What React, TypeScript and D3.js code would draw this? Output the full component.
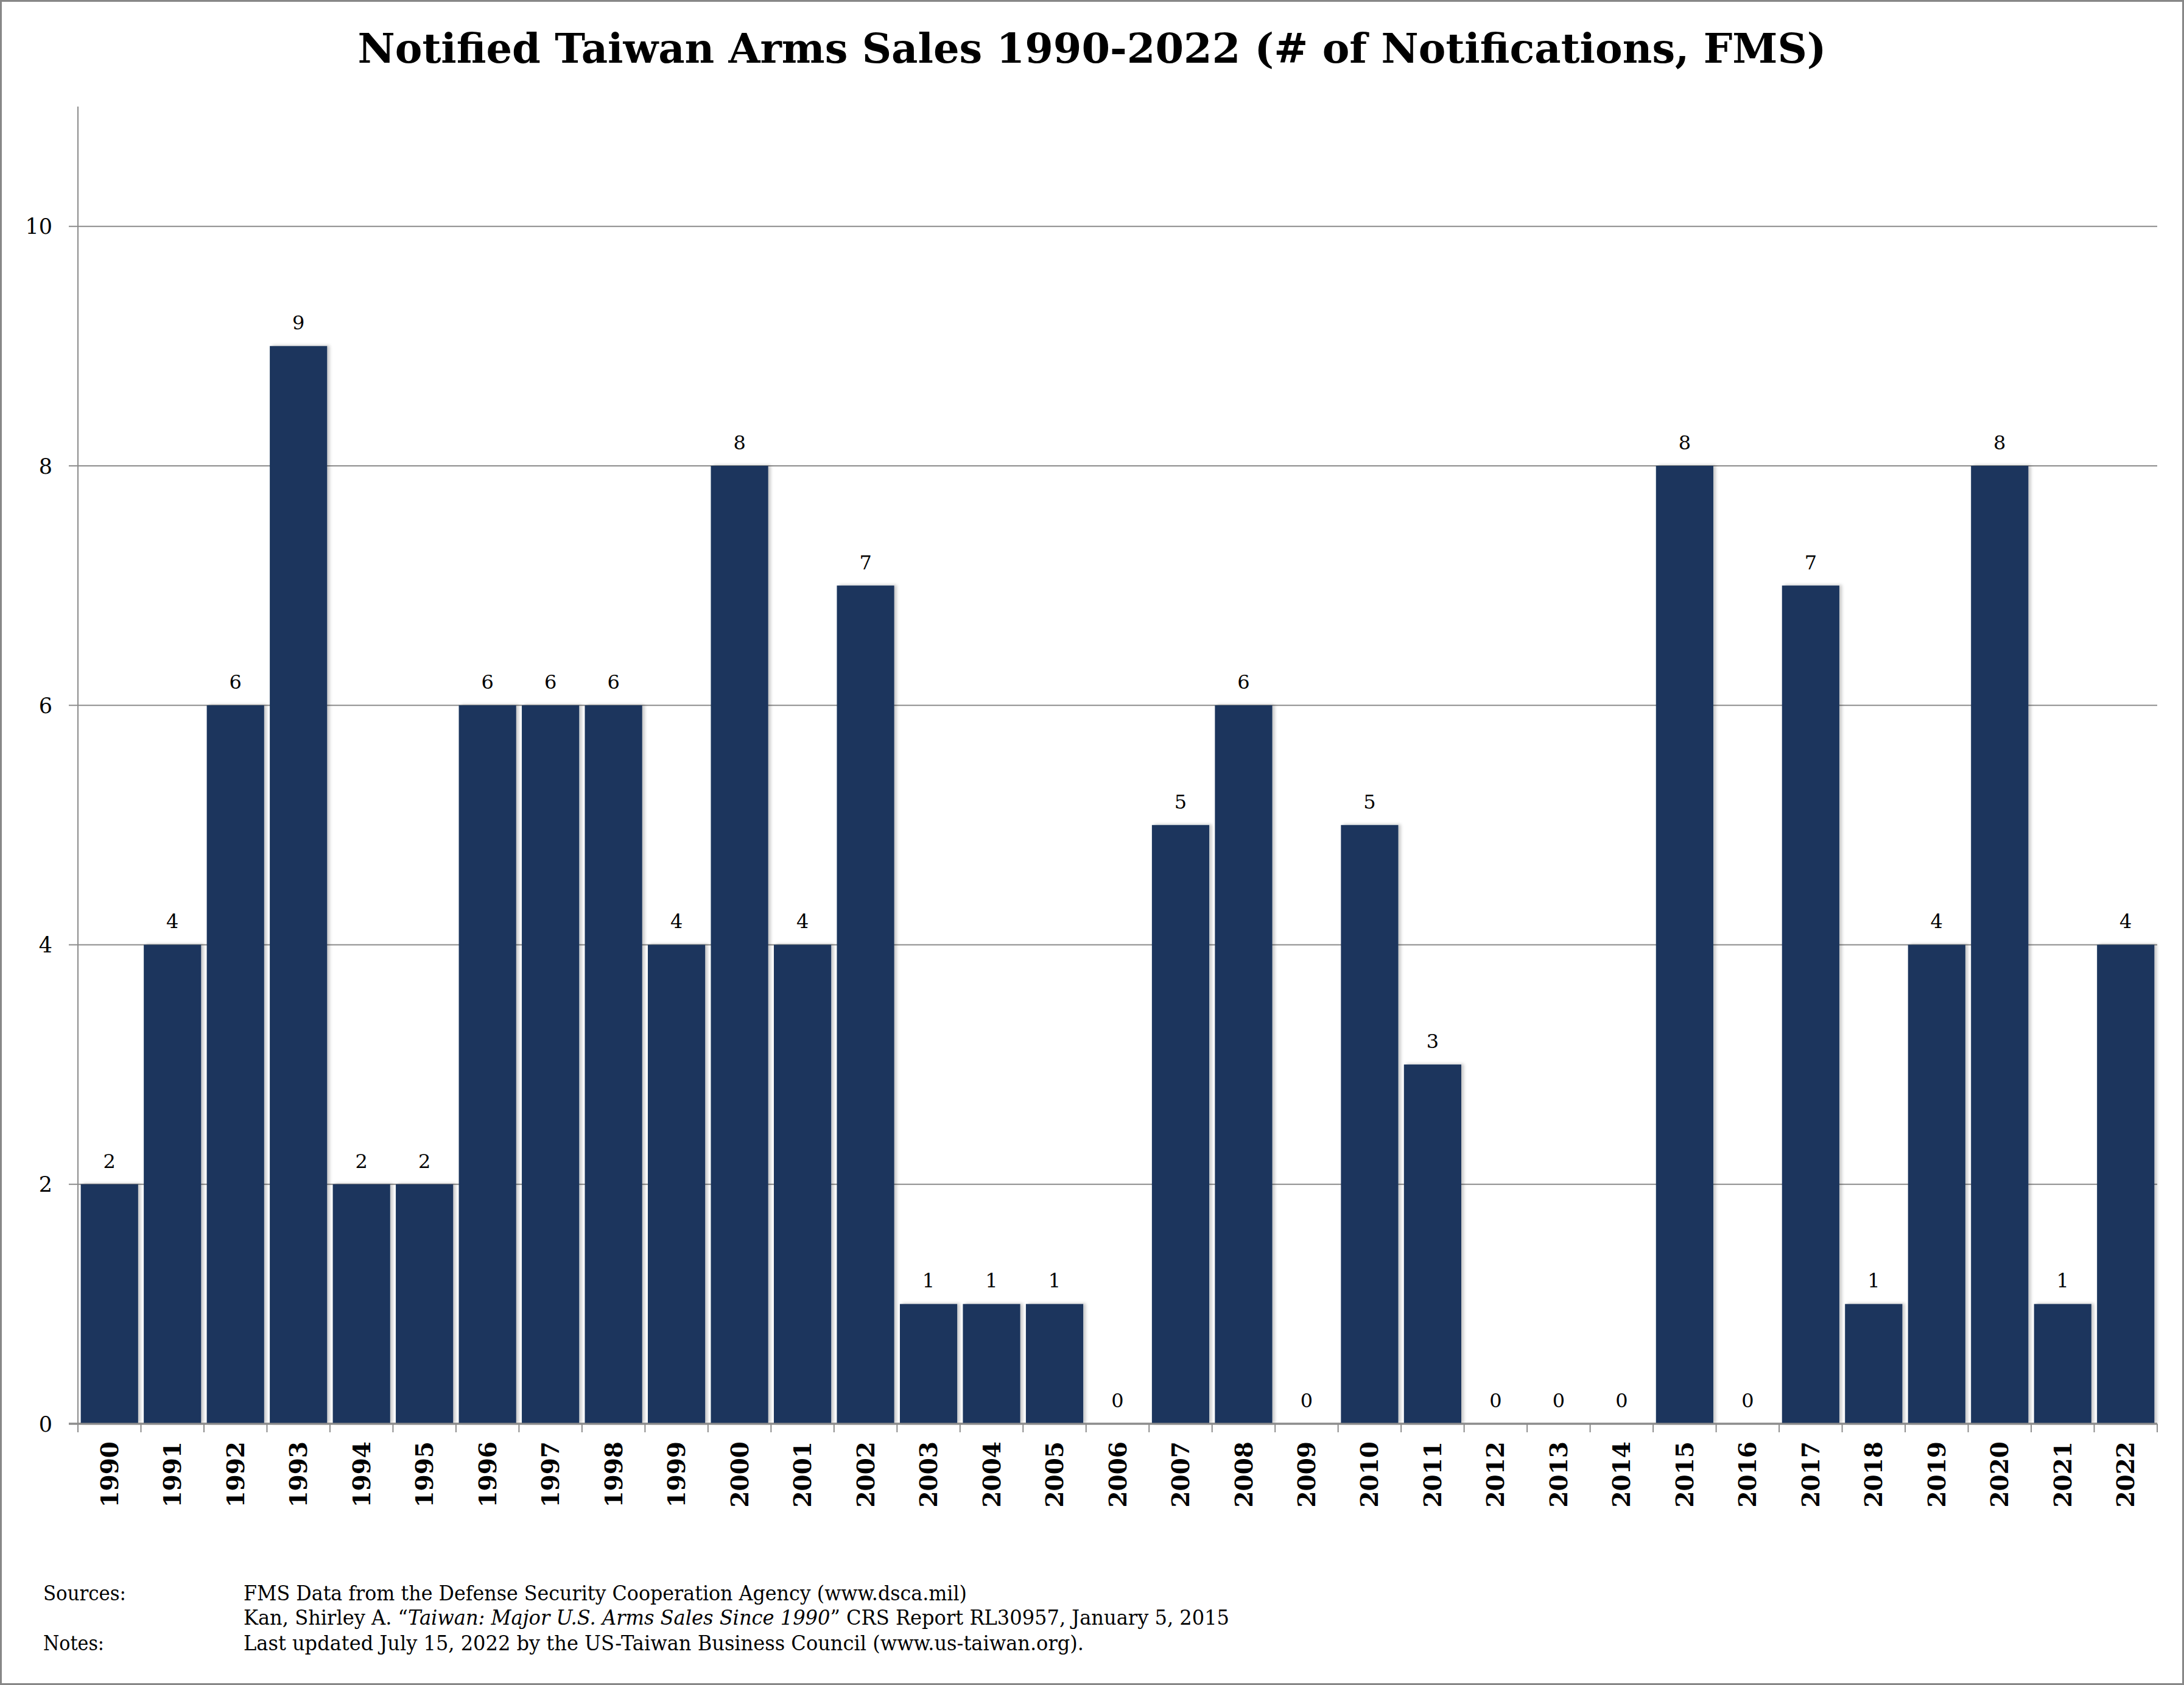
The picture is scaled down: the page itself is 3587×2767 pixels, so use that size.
import React, { useEffect } from "react";
import * as d3 from "d3";

const years: string[] = [
  "1990","1991","1992","1993","1994","1995","1996","1997","1998","1999",
  "2000","2001","2002","2003","2004","2005","2006","2007","2008","2009",
  "2010","2011","2012","2013","2014","2015","2016","2017","2018","2019",
  "2020","2021","2022",
];
const notifications: number[] = [
  2, 4, 6, 9, 2, 2, 6, 6, 6, 4,
  8, 4, 7, 1, 1, 1, 0, 5, 6, 0,
  5, 3, 0, 0, 0, 8, 0, 7, 1, 4,
  8, 1, 4,
];
const yTicks: number[] = [0, 2, 4, 6, 8, 10];
const titleText = "Notified Taiwan Arms Sales 1990-2022 (# of Notifications, FMS)";
const footerLabels: string[] = ["Sources:", "Notes:"];
const sourceLine1 = "FMS Data from the Defense Security Cooperation Agency (www.dsca.mil)";
const sourceLine2a = "Kan, Shirley A. \u201C";
const sourceLine2b = "Taiwan: Major U.S. Arms Sales Since 1990";
const sourceLine2c = "\u201D CRS Report RL30957, January 5, 2015";
const notesLine = "Last updated July 15, 2022 by the US-Taiwan Business Council (www.us-taiwan.org).";

const W = 3587;
const H = 2767;
const M = { left: 128, right: 3543, top: 175, bottom: 2338 };
const BAR = "#1a365d";
const GRID = "#8c8c8c";
const SERIF = "'DejaVu Serif', serif";

export default function App() {
  useEffect(() => {
    document.body.style.margin = "0";
  }, []);

  const x = d3
    .scaleBand<string>()
    .domain(years)
    .range([M.left, M.right])
    .paddingInner(0.09)
    .paddingOuter(0.045);
  const y = d3.scaleLinear().domain([0, 11]).range([M.bottom, M.top]);
  const step = x.step();
  const boundaries = d3.range(years.length + 1).map((i) => M.left + i * step);

  return (
    <svg width={W} height={H} style={{ display: "block" }} xmlns="http://www.w3.org/2000/svg">
      <defs>
        <filter id="shadow" x="-10%" y="-5%" width="130%" height="110%">
          <feDropShadow dx="4" dy="-1" stdDeviation="2.5" floodColor="#000" floodOpacity="0.22" />
        </filter>
      </defs>
      <rect x={0} y={0} width={W} height={H} fill="#fff" />
      <rect x={1.5} y={1.5} width={W - 3} height={H - 3} fill="none" stroke="#878787" strokeWidth={3} />

      <text
        x={W / 2}
        y={103}
        textAnchor="middle"
        fontFamily={SERIF}
        fontWeight="bold"
        fontSize={68}
        textLength={2412}
        lengthAdjust="spacingAndGlyphs"
        fill="#000"
      >
        {titleText}
      </text>

      {yTicks.map((t) => (
        <g key={t}>
          <line x1={M.left - 15} x2={M.right} y1={y(t)} y2={y(t)} stroke={GRID} strokeWidth={t === 0 ? 3 : 2} />
          <text
            x={86}
            y={y(t)}
            dy="0.36em"
            textAnchor="end"
            fontFamily={SERIF}
            fontSize={35}
            fill="#000"
          >
            {t}
          </text>
        </g>
      ))}

      {years.map((yr, i) => (
        notifications[i] > 0 ? (
          <rect
            key={yr}
            x={x(yr)}
            y={y(notifications[i])}
            width={x.bandwidth()}
            height={y(0) - y(notifications[i])}
            fill={BAR}
            filter="url(#shadow)"
          />
        ) : null
      ))}

      <line x1={M.left} x2={M.left} y1={M.top} y2={M.bottom + 14} stroke={GRID} strokeWidth={2} />
      <line x1={M.left - 15} x2={M.right} y1={y(0)} y2={y(0)} stroke={GRID} strokeWidth={3} />
      {boundaries.map((bx, i) => (
        <line key={i} x1={bx} x2={bx} y1={M.bottom} y2={M.bottom + 14} stroke={GRID} strokeWidth={2} />
      ))}

      {years.map((yr, i) => (
        <text
          key={"v" + yr}
          x={(x(yr) as number) + x.bandwidth() / 2}
          y={y(notifications[i]) - 27}
          textAnchor="middle"
          fontFamily={SERIF}
          fontSize={32}
          fill="#000"
        >
          {notifications[i]}
        </text>
      ))}

      {years.map((yr) => {
        const cx = (x(yr) as number) + x.bandwidth() / 2;
        const cy = M.bottom + 29;
        return (
          <text
            key={"y" + yr}
            transform={`translate(${cx},${cy}) rotate(-90)`}
            dy="0.36em"
            textAnchor="end"
            fontFamily={SERIF}
            fontWeight="bold"
            fontSize={39}
            fill="#000"
          >
            {yr}
          </text>
        );
      })}

      <text x={71} y={2628} fontFamily={SERIF} fontSize={34} textLength={136} lengthAdjust="spacingAndGlyphs">
        {footerLabels[0]}
      </text>
      <text x={71} y={2710} fontFamily={SERIF} fontSize={34} textLength={100} lengthAdjust="spacingAndGlyphs">
        {footerLabels[1]}
      </text>
      <text x={400} y={2628} fontFamily={SERIF} fontSize={34} textLength={1188} lengthAdjust="spacingAndGlyphs">
        {sourceLine1}
      </text>
      <text x={400} y={2668} fontFamily={SERIF} fontSize={34} textLength={1619} lengthAdjust="spacingAndGlyphs">
        {sourceLine2a}
        <tspan fontStyle="italic">{sourceLine2b}</tspan>
        {sourceLine2c}
      </text>
      <text x={400} y={2710} fontFamily={SERIF} fontSize={34} textLength={1380} lengthAdjust="spacingAndGlyphs">
        {notesLine}
      </text>
    </svg>
  );
}
